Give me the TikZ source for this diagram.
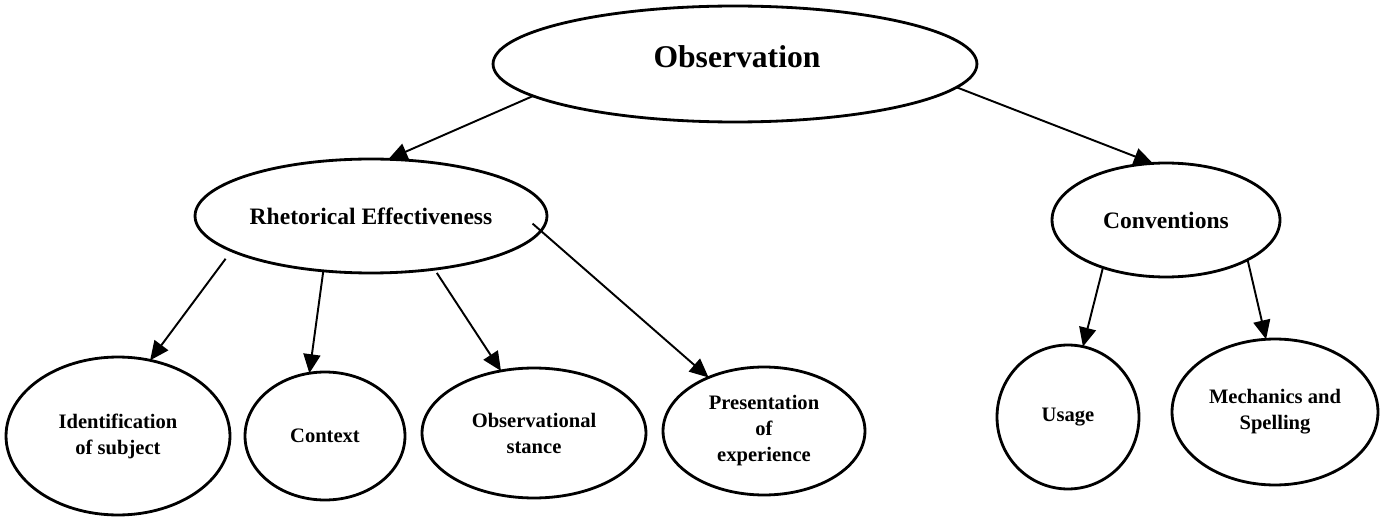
\documentclass[tikz,border=0pt]{standalone}
\usepackage{fontspec}
\setmainfont{Liberation Serif}
\usetikzlibrary{shapes.geometric,arrows.meta}
\begin{document}
\begin{tikzpicture}[x=0.02cm,y=-0.02cm,
  bub/.style={draw, ellipse, line width=1.6pt, inner sep=0pt, outer sep=0pt},
  arr/.style={line width=1.1pt, -{Triangle[length=0.38cm,width=0.34cm]}},
  tA/.style={font=\bfseries\fontsize{18}{21}\selectfont, inner sep=0pt},
  tB/.style={font=\bfseries\fontsize{13.4}{16}\selectfont},
  tC/.style={font=\bfseries\fontsize{11.7}{14.8}\selectfont, align=center},
]
\useasboundingbox (0,0) rectangle (1384,517);

% top level
\node[bub, minimum width=9.68cm, minimum height=2.32cm] (obs) at (735,64) {};
\node[tA] (obsT) at (737,57) {Observation};

% second level
\node[bub, tB, minimum width=7.04cm, minimum height=2.28cm] (re) at (371,216) {Rhetorical Effectiveness};
\node[bub, tB, minimum width=4.56cm, minimum height=2.28cm] (co) at (1166,220) {Conventions};

% third level
\node[bub, tC, minimum width=4.48cm, minimum height=3.16cm] (id) at (118,436) {Identification\\of subject};
\node[bub, tC, minimum width=3.2cm, minimum height=2.56cm] (cx) at (325,436) {Context};
\node[bub, tC, minimum width=4.48cm, minimum height=2.6cm] (os) at (534,433) {Observational\\stance};
\node[bub, tC, minimum width=4.04cm, minimum height=2.56cm] (pr) at (764,431) {Presentation\\of\\experience};
\node[bub, tC, minimum width=2.84cm, minimum height=2.88cm] (us) at (1068,417) {Usage};
\node[bub, tC, minimum width=4.12cm, minimum height=2.92cm] (me) at (1275,412) {Mechanics and\\Spelling};

% connectors
\draw[arr] (obs.189.6) -- (re.73.4);
\draw[arr] (obs.354.5) -- (co.103.8);
\draw[arr, shorten <=0.2cm] (re.194.35) -- (id.67.5);
\draw[arr] (re.229.4) -- (cx.104);
\draw[arr, shorten <=0.09cm] (re.320.1) -- (os.118.6);
\draw[arr, shorten <=-0.22cm] (re.355.2) -- (pr.136.6);
\draw[arr] (co.217) -- (us.78.7);
\draw[arr] (co.334.3) -- (me.97.9);
\end{tikzpicture}
\end{document}
